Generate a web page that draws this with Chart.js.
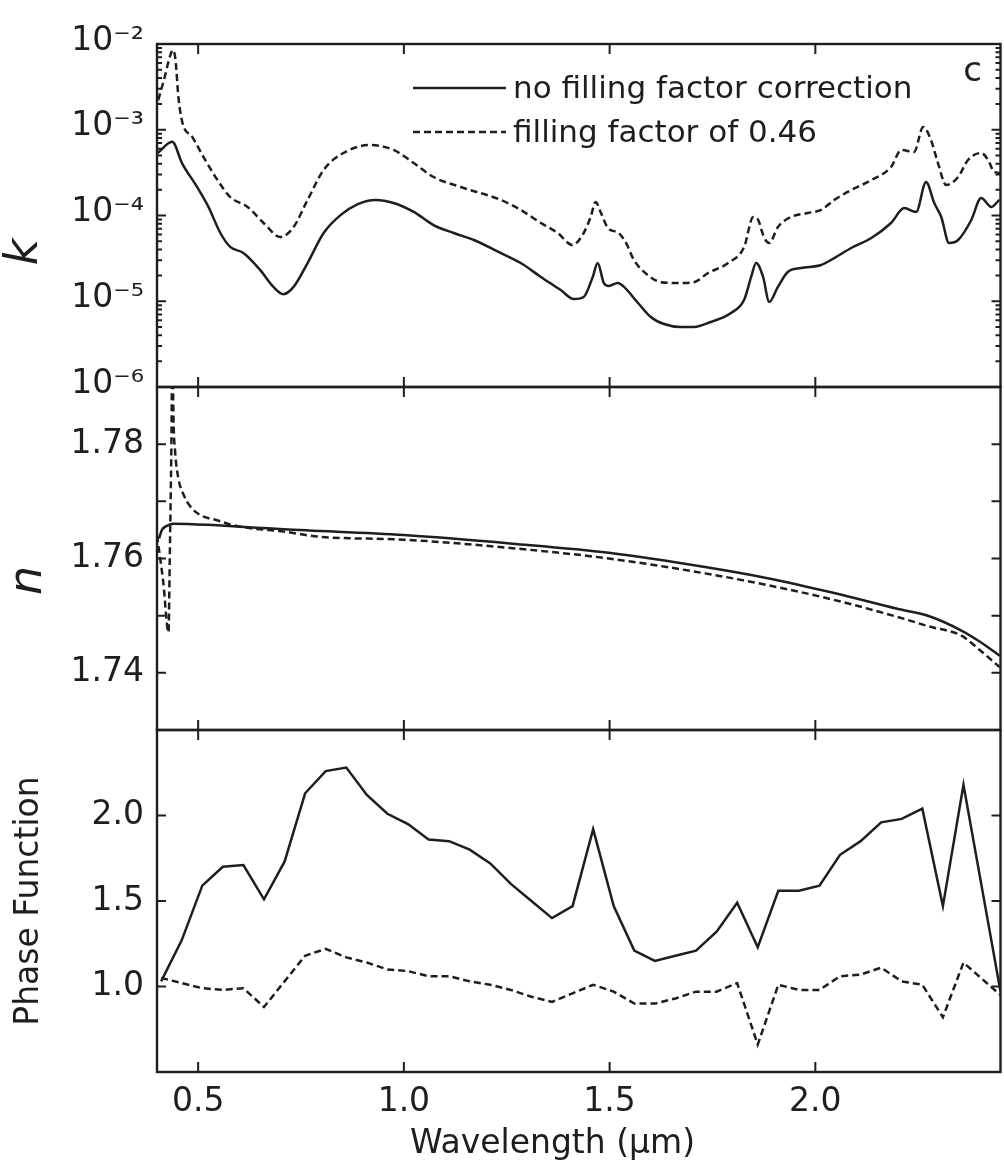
<!DOCTYPE html>
<html><head><meta charset="utf-8">
<script src="https://cdn.jsdelivr.net/npm/chart.js@4.4.1/dist/chart.umd.min.js"></script>
<style>
html,body{margin:0;padding:0;background:#fff;}
#wrap{position:relative;width:1004px;height:1168px;overflow:hidden;background:#fff;}
canvas{position:absolute;left:0;}
</style></head><body>
<div id="wrap">
<canvas id="cK" width="1004" height="440" style="top:0px;width:1004px;height:440px"></canvas>
<canvas id="cN" width="1004" height="450" style="top:330px;width:1004px;height:450px"></canvas>
<canvas id="cP" width="1004" height="498" style="top:670px;width:1004px;height:498px"></canvas>
</div>
<script>
// ---------------- data ----------------
const seriesLabels = ['no filling factor correction', 'filling factor of 0.46'];

const xTickValues = [0.5, 1.0, 1.5, 2.0];
const xTickLabels = ['0.5', '1.0', '1.5', '2.0'];

const kDecades = [1e-6, 1e-5, 1e-4, 1e-3, 1e-2];
const kDecadeLabels = ['10⁻⁶', '10⁻⁵', '10⁻⁴', '10⁻³', '10⁻²'];
const kMinorMultipliers = [2, 3, 4, 5, 6, 7, 8, 9];

const nTickValues = [1.73, 1.74, 1.75, 1.76, 1.77, 1.78, 1.79];
const nTickLabels = ['', '1.74', '', '1.76', '', '1.78', ''];

const phaseTickValues = [0.5, 1.0, 1.5, 2.0, 2.5];
const phaseTickLabels = ['', '1.0', '1.5', '2.0', ''];

// panel 1: k (log)
const kWavelengthSolid = [0.402,0.437,0.461,0.497,0.525,0.554,0.578,0.610,0.651,0.683,0.707,0.732,0.766,0.805,0.846,0.888,0.931,0.975,1.024,1.072,1.121,1.170,1.235,1.284,1.333,1.381,1.413,1.437,1.459,1.471,1.486,1.498,1.520,1.535,1.569,1.600,1.632,1.673,1.705,1.746,1.795,1.827,1.844,1.856,1.873,1.888,1.909,1.933,1.965,2.014,2.046,2.087,2.136,2.184,2.216,2.245,2.269,2.289,2.306,2.325,2.347,2.379,2.403,2.428,2.447];
const kSolid = [5.36e-4,7.26e-4,4.06e-4,2.17e-4,1.26e-4,6.25e-5,4.30e-5,3.66e-5,2.31e-5,1.47e-5,1.21e-5,1.47e-5,2.79e-5,6.25e-5,1.01e-4,1.36e-4,1.52e-4,1.40e-4,1.10e-4,7.74e-5,6.25e-5,5.18e-5,3.66e-5,2.79e-5,1.92e-5,1.35e-5,1.06e-5,1.12e-5,1.92e-5,2.79e-5,1.63e-5,1.51e-5,1.63e-5,1.47e-5,9.55e-6,6.55e-6,5.43e-6,5.01e-6,5.01e-6,5.73e-6,7.29e-6,1.04e-5,1.92e-5,2.79e-5,1.92e-5,9.79e-6,1.47e-5,2.19e-5,2.44e-5,2.65e-5,3.19e-5,4.18e-5,5.47e-5,8.18e-5,1.22e-4,1.10e-4,2.46e-4,1.40e-4,9.62e-5,4.78e-5,5.18e-5,8.87e-5,1.60e-4,1.26e-4,1.52e-4];
const kWavelengthDashed = [0.403,0.420,0.427,0.439,0.445,0.452,0.462,0.486,0.513,0.547,0.578,0.620,0.659,0.700,0.732,0.766,0.805,0.853,0.919,0.975,1.024,1.072,1.138,1.235,1.284,1.333,1.374,1.410,1.437,1.454,1.466,1.479,1.496,1.522,1.540,1.559,1.593,1.625,1.673,1.705,1.739,1.788,1.827,1.849,1.861,1.875,1.888,1.909,1.941,1.982,2.014,2.046,2.087,2.136,2.184,2.209,2.240,2.262,2.281,2.298,2.318,2.347,2.371,2.403,2.420,2.435,2.452];
const kDashed = [2.22e-3,4.35e-3,6.00e-3,8.51e-3,6.50e-3,2.41e-3,1.20e-3,8.22e-4,4.81e-4,2.59e-4,1.64e-4,1.26e-4,8.18e-5,5.61e-5,7.35e-5,1.52e-4,3.40e-4,5.36e-4,6.64e-4,5.81e-4,4.09e-4,2.81e-4,2.15e-4,1.52e-4,1.16e-4,8.18e-5,6.25e-5,4.53e-5,6.25e-5,9.62e-5,1.44e-4,1.07e-4,7.14e-5,6.25e-5,4.78e-5,3.03e-5,2.02e-5,1.67e-5,1.63e-5,1.67e-5,2.13e-5,2.79e-5,4.30e-5,9.62e-5,8.87e-5,5.61e-5,4.78e-5,7.35e-5,9.62e-5,1.07e-4,1.16e-4,1.52e-4,1.98e-4,2.59e-4,3.68e-4,5.81e-4,5.51e-4,1.08e-3,7.59e-4,4.09e-4,2.27e-4,2.81e-4,4.44e-4,5.36e-4,4.44e-4,3.21e-4,3.13e-4];

// panel 2: n
const nWavelengthSolid = [0.405,0.412,0.424,0.440,0.546,0.642,0.708,1.000,1.264,1.498,1.732,1.887,2.043,2.199,2.277,2.355,2.401,2.448];
const nSolid = [1.7635,1.7650,1.7657,1.7661,1.7658,1.7654,1.7651,1.7641,1.7626,1.7610,1.7585,1.7565,1.7540,1.7512,1.7499,1.7474,1.7454,1.7430];
const nWavelengthDashed = [0.400,0.415,0.428,0.431,0.435,0.437,0.439,0.440,0.444,0.452,0.465,0.481,0.505,0.546,0.586,0.627,0.708,0.796,1.000,1.264,1.498,1.732,1.887,2.043,2.199,2.277,2.355,2.401,2.448];
const nDashed = [1.7641,1.7560,1.7471,1.7600,1.7800,1.7950,1.7900,1.7846,1.7787,1.7740,1.7711,1.7691,1.7676,1.7667,1.7658,1.7653,1.7647,1.7638,1.7633,1.7618,1.7600,1.7574,1.7553,1.7528,1.7498,1.7481,1.7465,1.7439,1.7410];

// panel 3: phase function
const phaseWavelength = [0.41,0.46,0.51,0.56,0.61,0.66,0.71,0.76,0.81,0.86,0.91,0.96,1.01,1.06,1.11,1.16,1.21,1.26,1.31,1.36,1.41,1.46,1.51,1.56,1.61,1.66,1.71,1.76,1.81,1.86,1.91,1.96,2.01,2.06,2.11,2.16,2.21,2.26,2.31,2.36,2.45];
const phaseSolid = [1.03,1.27,1.59,1.70,1.71,1.51,1.73,2.13,2.26,2.28,2.12,2.01,1.95,1.86,1.85,1.80,1.72,1.60,1.50,1.40,1.47,1.92,1.47,1.21,1.15,1.18,1.21,1.32,1.49,1.23,1.56,1.56,1.59,1.77,1.85,1.96,1.98,2.04,1.47,2.18,0.97];
const phaseDashed = [1.05,1.02,0.99,0.98,0.99,0.88,1.03,1.18,1.22,1.17,1.14,1.10,1.09,1.06,1.06,1.03,1.01,0.98,0.94,0.91,0.96,1.01,0.97,0.90,0.90,0.93,0.97,0.97,1.02,0.66,1.01,0.98,0.98,1.06,1.07,1.11,1.03,1.01,0.82,1.14,0.95];

// ---------------- styling ----------------
const FONT = "'DejaVu Sans', 'Liberation Sans', sans-serif";
const INK = '#1e1e1e';
const X_MIN = 0.4, X_MAX = 2.45;
const AXIS_W = 157;
const DASH = [7, 4];

function pts(xs, ys) { return xs.map((x, i) => ({x: x, y: ys[i]})); }

const kAllTicks = [];
kDecades.forEach((d, i) => {
  kAllTicks.push(d);
  if (i < kDecades.length - 1) kMinorMultipliers.forEach(m => kAllTicks.push(d * m));
});

function makeFrame(isMajor, yMajor, yMinor) {
  return {
    id: 'frame',
    afterDatasetsDraw(chart) {
      const {ctx, chartArea: a} = chart;
      const xs = chart.scales.x, ys = chart.scales.y;
      ctx.save();
      ctx.strokeStyle = INK; ctx.lineWidth = 2;
      ctx.beginPath();
      xTickValues.forEach(v => {
        const p = xs.getPixelForValue(v);
        ctx.moveTo(p, a.top); ctx.lineTo(p, a.top + 10);
        ctx.moveTo(p, a.bottom); ctx.lineTo(p, a.bottom - 10);
      });
      ys.ticks.forEach(t => {
        const p = ys.getPixelForValue(t.value);
        if (p < a.top + 1 || p > a.bottom - 1) return;
        const len = isMajor(t.value) ? yMajor : yMinor;
        ctx.moveTo(a.left, p); ctx.lineTo(a.left + len, p);
        ctx.moveTo(a.right, p); ctx.lineTo(a.right - len, p);
      });
      ctx.stroke();
      ctx.lineWidth = 2.4;
      ctx.strokeRect(a.left, a.top, a.right - a.left, a.bottom - a.top);
      ctx.restore();
    }
  };
}

const insideLegend = {
  id: 'insideLegend',
  afterDatasetsDraw(chart) {
    const {ctx, chartArea: a} = chart;
    ctx.save();
    chart.data.datasets.forEach((d, i) => {
      const y = a.top + 44 + i * 44;
      ctx.strokeStyle = INK; ctx.lineWidth = 2.5;
      ctx.setLineDash(d.borderDash || []);
      ctx.beginPath(); ctx.moveTo(a.left + 256, y); ctx.lineTo(a.left + 349, y); ctx.stroke();
      ctx.setLineDash([]);
      ctx.fillStyle = INK; ctx.font = '31px ' + FONT;
      ctx.textBaseline = 'middle'; ctx.textAlign = 'left';
      ctx.fillText(d.label, a.left + 356, y + 2);
    });
    ctx.font = '34px ' + FONT; ctx.textAlign = 'center'; ctx.textBaseline = 'middle';
    ctx.fillText('c', a.right - 28, a.top + 28);
    ctx.restore();
  }
};

function hiddenX() {
  return { type: 'linear', min: X_MIN, max: X_MAX, display: false,
    afterBuildTicks: s => { s.ticks = xTickValues.map(v => ({value: v})); } };
}
function yCommon(extra) {
  return Object.assign({
    afterFit: s => { s.width = AXIS_W; },
    grid: {display: false, drawTicks: false},
    border: {display: false},
  }, extra);
}
function lineDs(label, data, dashed, smooth) {
  const d = { label: label, data: data, borderColor: INK, borderWidth: 2.5, pointRadius: 0,
    fill: false, tension: 0 };
  if (dashed) d.borderDash = DASH;
  if (smooth) d.cubicInterpolationMode = 'monotone';
  return d;
}
const base = { responsive: false, animation: false, devicePixelRatio: 1, events: [],
  plugins: { legend: {display: false}, tooltip: {enabled: false} } };

// ---------- panel 1 ----------
new Chart(document.getElementById('cK'), {
  type: 'line',
  data: { datasets: [
    lineDs(seriesLabels[0], pts(kWavelengthSolid, kSolid), false, true),
    lineDs(seriesLabels[1], pts(kWavelengthDashed, kDashed), true, true)
  ]},
  options: Object.assign({}, base, {
    layout: { padding: {left: 0, right: 3.5, top: 44, bottom: 53} },
    scales: {
      x: hiddenX(),
      y: yCommon({
        type: 'logarithmic', min: 1e-6, max: 1e-2,
        afterBuildTicks: s => { s.ticks = kAllTicks.map(v => ({value: v})); },
        ticks: { autoSkip: false, padding: 13, labelOffset: -3, color: INK,
          font: {family: FONT, size: 33},
          callback: v => { const i = kDecades.findIndex(d => Math.abs(d - v) / d < 1e-6); return i >= 0 ? kDecadeLabels[i] : ''; } },
        title: { display: true, text: 'k     ', color: INK,
          font: {family: FONT, size: 46, style: 'italic', lineHeight: 1}, padding: {top: 2.5, bottom: 0} }
      })
    }
  }),
  plugins: [makeFrame(v => kDecades.some(d => Math.abs(d - v) / d < 1e-6), 9, 5), insideLegend]
});

// ---------- panel 2 ----------
new Chart(document.getElementById('cN'), {
  type: 'line',
  data: { datasets: [
    lineDs(seriesLabels[0], pts(nWavelengthSolid, nSolid), false, true),
    lineDs(seriesLabels[1], pts(nWavelengthDashed, nDashed), true, true)
  ]},
  options: Object.assign({}, base, {
    layout: { padding: {left: 0, right: 3.5, top: 57, bottom: 50} },
    scales: {
      x: hiddenX(),
      y: yCommon({
        type: 'linear', min: 1.73, max: 1.79,
        afterBuildTicks: s => { s.ticks = nTickValues.map(v => ({value: v})); },
        ticks: { autoSkip: false, padding: 13, color: INK, font: {family: FONT, size: 33},
          callback: v => { const i = nTickValues.findIndex(t => Math.abs(t - v) < 1e-6); return i >= 0 ? nTickLabels[i] : ''; } },
        title: { display: true, text: 'n   ', color: INK,
          font: {family: FONT, size: 46, style: 'italic', lineHeight: 1}, padding: {top: 6, bottom: 0} }
      })
    }
  }),
  plugins: [makeFrame(() => true, 9, 9)]
});

// ---------- panel 3 ----------
new Chart(document.getElementById('cP'), {
  type: 'line',
  data: { datasets: [
    lineDs(seriesLabels[0], pts(phaseWavelength, phaseSolid), false, false),
    lineDs(seriesLabels[1], pts(phaseWavelength, phaseDashed), true, false)
  ]},
  options: Object.assign({}, base, {
    layout: { padding: {left: 0, right: 3.5, top: 60, bottom: 0} },
    scales: {
      x: { type: 'linear', min: X_MIN, max: X_MAX, position: 'bottom',
        afterBuildTicks: s => { s.ticks = xTickValues.map(v => ({value: v})); },
        afterFit: s => { s.height = 96; },
        grid: {display: false, drawTicks: false}, border: {display: false},
        ticks: { autoSkip: false, maxRotation: 0, padding: 11, color: INK, font: {family: FONT, size: 33},
          callback: v => { const i = xTickValues.findIndex(t => Math.abs(t - v) < 1e-6); return i >= 0 ? xTickLabels[i] : ''; } },
        title: { display: true, text: 'Wavelength (μm)     ', color: INK,
          font: {family: FONT, size: 33, lineHeight: 1}, padding: {top: 0, bottom: 7} }
      },
      y: yCommon({
        type: 'linear', min: 0.5, max: 2.5,
        afterBuildTicks: s => { s.ticks = phaseTickValues.map(v => ({value: v})); },
        ticks: { autoSkip: false, padding: 13, color: INK, font: {family: FONT, size: 33},
          callback: v => { const i = phaseTickValues.findIndex(t => Math.abs(t - v) < 1e-6); return i >= 0 ? phaseTickLabels[i] : ''; } },
        title: { display: true, text: 'Phase Function', color: INK,
          font: {family: FONT, size: 33, lineHeight: 1}, padding: {top: 13, bottom: 0} }
      })
    }
  }),
  plugins: [makeFrame(() => true, 9, 9)]
});
</script>
</body></html>
